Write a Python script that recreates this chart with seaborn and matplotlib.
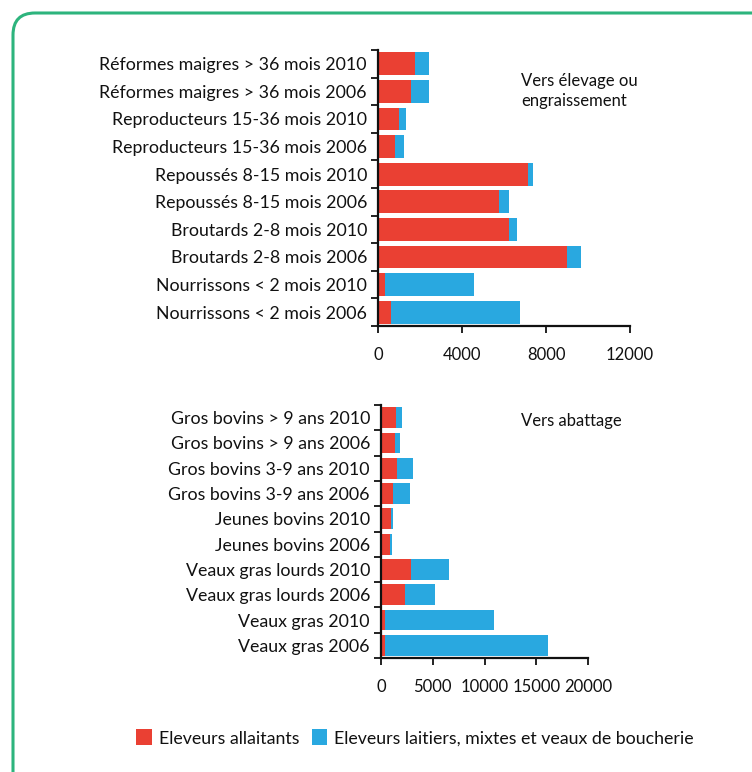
import matplotlib
matplotlib.use("Agg")
import matplotlib.pyplot as plt
from matplotlib.patches import FancyBboxPatch, Patch
import seaborn as sns
import pandas as pd
import numpy as np

# Upper panel: animals sent to breeding / fattening
top_labels = [
    "Réformes maigres > 36 mois 2010",
    "Réformes maigres > 36 mois 2006",
    "Reproducteurs 15-36 mois 2010",
    "Reproducteurs 15-36 mois 2006",
    "Repoussés 8-15 mois 2010",
    "Repoussés 8-15 mois 2006",
    "Broutards 2-8 mois 2010",
    "Broutards 2-8 mois 2006",
    "Nourrissons < 2 mois 2010",
    "Nourrissons < 2 mois 2006",
]
top_allaitants = [1760, 1590, 1000, 825, 7130, 5750, 6220, 9010, 330, 635]
top_laitiers = [690, 860, 350, 415, 250, 490, 380, 650, 4220, 6140]
top_ticks = [0, 4000, 8000, 12000]

# Lower panel: animals sent to slaughter
bot_labels = [
    "Gros bovins > 9 ans 2010",
    "Gros bovins > 9 ans 2006",
    "Gros bovins 3-9 ans 2010",
    "Gros bovins 3-9 ans 2006",
    "Jeunes bovins 2010",
    "Jeunes bovins 2006",
    "Veaux gras lourds 2010",
    "Veaux gras lourds 2006",
    "Veaux gras 2010",
    "Veaux gras 2006",
]
bot_allaitants = [1420, 1320, 1550, 1190, 970, 840, 2900, 2290, 355, 390]
bot_laitiers = [650, 490, 1580, 1610, 220, 230, 3710, 2970, 10520, 15740]
bot_ticks = [0, 5000, 10000, 15000, 20000]

legend_labels = ["Eleveurs allaitants",
                 "Eleveurs laitiers, mixtes et veaux de boucherie"]

RED = "#ea4033"
BLUE = "#29a8e0"
INK = "#111111"
FONT = "Lato"

sns.set_theme(style="white")
plt.rcParams["font.family"] = [FONT, "DejaVu Sans"]
plt.rcParams["text.color"] = INK

fig = plt.figure(figsize=(7.52, 7.72), dpi=100)
W, H = 752, 772


def panel(rect_px, labels, red, blue, ticks, title, title_xy):
    x0, y_top, x1, y_bot = rect_px
    ax = fig.add_axes([x0 / W, 1 - y_bot / H, (x1 - x0) / W, (y_bot - y_top) / H])
    df = pd.DataFrame({
        "label": labels,
        "red": red,
        "total": np.array(red) + np.array(blue),
    })
    sns.barplot(data=df, y="label", x="total", color=BLUE, orient="h",
                width=0.82, saturation=1, ax=ax, edgecolor="none")
    sns.barplot(data=df, y="label", x="red", color=RED, orient="h",
                width=0.82, saturation=1, ax=ax, edgecolor="none")
    n = len(labels)
    ax.set_ylim(n - 0.5, -0.5)
    ax.set_xlim(ticks[0], ticks[-1])
    # tick marks at category boundaries, labels at centres
    ax.set_yticks(np.arange(n + 1) - 0.5)
    ax.set_yticklabels([])
    ax.set_yticks(np.arange(n), minor=True)
    ax.set_yticklabels(labels, minor=True, fontsize=12.8, color=INK)
    ax.tick_params(axis="y", which="major", left=True, length=5, width=1.3,
                   color=INK, direction="out")
    ax.tick_params(axis="y", which="minor", left=False, length=0, pad=8)
    ax.set_xticks(ticks)
    ax.set_xticklabels([str(t) for t in ticks], fontsize=12, color=INK)
    ax.tick_params(axis="x", bottom=True, length=5, width=1.3,
                   color=INK, direction="out", pad=10)
    ax.set_xlabel("")
    ax.set_ylabel("")
    for s in ("top", "right"):
        ax.spines[s].set_visible(False)
    for s in ("left", "bottom"):
        ax.spines[s].set_color(INK)
        ax.spines[s].set_linewidth(1.6)
    fig.text(title_xy[0] / W, 1 - title_xy[1] / H, title, fontsize=12,
             ha="left", va="top", linespacing=1.3)
    return ax


panel((378, 50, 630, 326), top_labels, top_allaitants, top_laitiers,
      top_ticks, "Vers élevage ou\nengraissement", (521, 73))
panel((381, 405, 588, 658), bot_labels, bot_allaitants, bot_laitiers,
      bot_ticks, "Vers abattage", (521, 413))

handles = [Patch(facecolor=RED, edgecolor="none"),
           Patch(facecolor=BLUE, edgecolor="none")]
fig.legend(handles, legend_labels, loc="center", ncol=2, frameon=False,
           bbox_to_anchor=(415 / W, 1 - 738 / H),
           fontsize=12.8, handlelength=0.85, handleheight=1.0,
           handletextpad=0.4, columnspacing=0.7)

# rounded green frame
frame = FancyBboxPatch((13, -60), 820, (H - 13) + 60,
                       boxstyle="round,pad=0,rounding_size=22",
                       transform=None, facecolor="none",
                       edgecolor="#2db47d", linewidth=2.2)
fig.patches.append(frame)

fig.savefig("out.png", dpi=100)
